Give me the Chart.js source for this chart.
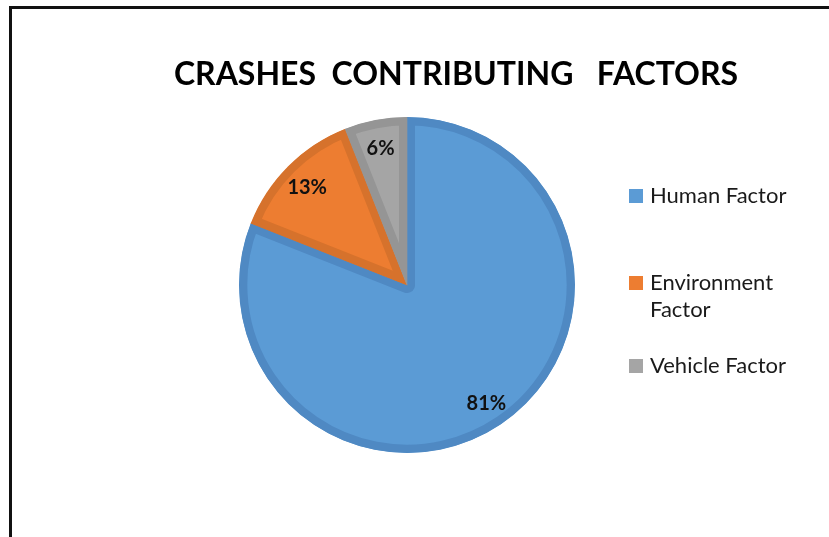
<!DOCTYPE html>
<html>
<head>
<meta charset="utf-8">
<script src="https://cdn.jsdelivr.net/npm/chart.js"></script>
<style>
  html, body { margin: 0; padding: 0; background: #fff; overflow: hidden; }
  #wrap { position: relative; width: 829px; height: 537px; }
  #frame {
    position: absolute; left: 9px; top: 6px; width: 840px; height: 560px;
    border-left: 3px solid #111; border-top: 3px solid #111;
  }
  #title {
    position: absolute; left: 56px; top: 55px; width: 800px; text-align: center;
    font: bold 32px Lato, sans-serif; line-height: 36px; white-space: pre; color: #000;
  }
  #legend { position: absolute; left: 629px; top: 0; }
  .item { position: absolute; left: 0; display: flex; }
  .swatch { width: 14px; height: 14px; margin-top: 8px; margin-right: 7px; flex: none; }
  .text { width: 160px; font: 22px Lato, sans-serif; line-height: 27px; color: #1a1a1a; }
  #chart-box { position: absolute; left: 0; top: 0; width: 829px; height: 537px; }
</style>
</head>
<body>
<div id="wrap">
  <div id="frame"></div>
  <div id="chart-box"><canvas id="pie"></canvas></div>
  <div id="title">CRASHES  CONTRIBUTING   FACTORS</div>
  <div id="legend"></div>
</div>
<script>
const categories = ['Human Factor', 'Environment Factor', 'Vehicle Factor'];
const shares = [81, 13, 6];
const fills = ['#5B9BD5', '#ED7D31', '#A5A5A5'];
const edges = ['#4F89C3', '#D6722C', '#959595'];
const legendTops = [181, 268, 351];

// percentage text placed inside each slice
const sliceLabels = {
  id: 'sliceLabels',
  afterDatasetsDraw(chart) {
    const ctx = chart.ctx;
    const meta = chart.getDatasetMeta(0);
    ctx.save();
    ctx.font = 'bold 20px Lato, sans-serif';
    ctx.fillStyle = '#111';
    ctx.textAlign = 'center';
    ctx.textBaseline = 'middle';
    meta.data.forEach((arc, i) => {
      const p = arc.getProps(['x', 'y', 'startAngle', 'endAngle', 'outerRadius'], true);
      const mid = (p.startAngle + p.endAngle) / 2;
      const r = p.outerRadius * 0.84;
      ctx.fillText(shares[i] + '%', p.x + Math.cos(mid) * r, p.y + Math.sin(mid) * r + 2);
    });
    ctx.restore();
  }
};

const chart = new Chart(document.getElementById('pie'), {
  type: 'pie',
  data: {
    labels: categories,
    datasets: [{
      data: shares,
      backgroundColor: fills,
      borderColor: edges,
      borderWidth: 8,
      borderAlign: 'inner'
    }]
  },
  options: {
    responsive: true,
    maintainAspectRatio: false,
    animation: false,
    layout: { padding: { left: 139, right: 154, top: 117, bottom: 84 } },
    plugins: {
      legend: { display: false },
      tooltip: { enabled: false }
    }
  },
  plugins: [sliceLabels]
});

// legend built from the chart's own labels and colours
const legend = document.getElementById('legend');
chart.data.labels.forEach((label, i) => {
  const item = document.createElement('div');
  item.className = 'item';
  item.style.top = legendTops[i] + 'px';
  item.innerHTML = `<div class="swatch" style="background:${chart.data.datasets[0].backgroundColor[i]}"></div><div class="text">${label}</div>`;
  legend.appendChild(item);
});
</script>
</body>
</html>
